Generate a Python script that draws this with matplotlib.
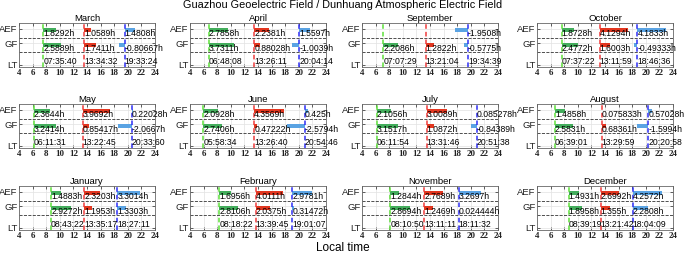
"""
Sunrise / noon / sunset response of the Guazhou geoelectric field (GF)
and the Dunhuang atmospheric electric field (AEF), one panel per month.
"""

import matplotlib.pyplot as plt


# ==========================================================
# Data (panel order: row by row)
# ==========================================================

months = ["March", "April", "September", "October",
          "May", "June", "July", "August",
          "January", "February", "November", "December"]

lt_sunrise = ["07:35:40", "06:48:08", "07:07:29", "07:37:22",
              "06:11:31", "05:58:34", "06:11:54", "06:39:01",
              "08:43:22", "08:18:22", "08:10:50", "08:39:19"]
lt_noon = ["13:34:32", "13:26:11", "13:21:04", "13:11:59",
           "13:22:45", "13:26:40", "13:31:46", "13:29:59",
           "13:35:17", "13:39:45", "13:11:11", "13:21:42"]
lt_sunset = ["19:33:24", "20:04:14", "19:34:39", "18:46:36",
             "20:33:60", "20:54:46", "20:51:38", "20:20:58",
             "18:27:11", "19:01:07", "18:11:32", "18:04:09"]

# hours of delay (negative = before the event)
aef_sunrise = [1.8292, 2.7858, None, 1.8728,
               2.3644, 2.0928, 2.1056, 1.4858,
               1.4883, 1.6956, 1.2844, 1.4931]
aef_noon = [1.0589, 2.2381, None, 4.1294,
            3.9692, 4.3569, 3.0089, 0.075833,
            2.3203, 4.0111, 2.7689, 2.6992]
aef_sunset = [1.4808, 1.5597, -1.9508, 4.1833,
              0.22028, 0.425, 0.085278, 0.57028,
              3.3014, 2.9781, 3.2697, 4.2572]

gf_sunrise = [2.5889, 3.7311, 2.2086, 2.4772,
              3.2414, 2.7406, 3.1517, 2.5831,
              2.9272, 2.8106, 2.8694, 1.8958]
gf_noon = [1.7411, 0.88028, 1.2822, 1.6003,
           0.85417, 0.47222, 1.0872, 0.68361,
           1.1953, 2.0375, 1.2469, 1.355]
gf_sunset = [-0.80667, -1.0039, -0.5775, -0.49333,
             -2.0667, -2.5794, -0.84389, -1.5994,
             1.3303, 0.31472, 0.024444, 2.2808]


# ==========================================================
# Style
# ==========================================================

SANS = "Liberation Sans"
SERIF = "Liberation Serif"

LINE_COLORS = ["#5ee03a", "#f03c3c", "#2d2df5"]
BAR_COLORS = ["#43ad5c", "#e2361f", "#5aa3e3"]

W, H = 685, 258

LEFTS = [19, 190, 362, 537]
TOPS = [23, 104, 186]
AX_W, AX_H = 136, 44

Y_AEF_BAR, Y_AEF_TXT = 2.51, 2.27
Y_GF_BAR, Y_GF_TXT = 1.49, 1.29
Y_LT_TXT = 0.40


def to_hours(t):
    h, m, s = (int(p) for p in t.split(":"))
    return h + m / 60 + s / 3600


def fmt(v):
    return f"{v:.5g}h"


fig = plt.figure(figsize=(W / 100, H / 100), dpi=100)

for i, month in enumerate(months):

    row, col = divmod(i, 4)

    ax = fig.add_axes([
        LEFTS[col] / W,
        1 - (TOPS[row] + AX_H) / H,
        AX_W / W,
        AX_H / H
    ])

    ax.set_xlim(4, 24)
    ax.set_ylim(0, 3)

    ax.set_axisbelow(True)
    ax.grid(True, color="#e2e2e2", lw=0.5)

    times = [lt_sunrise[i], lt_noon[i], lt_sunset[i]]
    aef = [aef_sunrise[i], aef_noon[i], aef_sunset[i]]
    gf = [gf_sunrise[i], gf_noon[i], gf_sunset[i]]

    for k in range(3):

        x0 = to_hours(times[k])

        ax.axvline(x0, color=LINE_COLORS[k], ls=(0, (3, 2)), lw=1.1, zorder=3)

        if aef[k] is not None:
            ax.barh(Y_AEF_BAR, aef[k], left=x0, height=0.25,
                    color=BAR_COLORS[k], zorder=2)
            ax.text(x0, Y_AEF_TXT, fmt(aef[k]), ha="left", va="center",
                    fontsize=6.2, family=SANS, zorder=4)

        ax.barh(Y_GF_BAR, gf[k], left=x0, height=0.25,
                color=BAR_COLORS[k], zorder=2)
        ax.text(x0, Y_GF_TXT, fmt(gf[k]), ha="left", va="center",
                fontsize=6.2, family=SANS, zorder=4)

        ax.text(x0, Y_LT_TXT, times[k], ha="left", va="center",
                fontsize=6.2, family=SANS, zorder=4)

    ax.axhline(2, color="#333333", ls="--", lw=0.6, zorder=1)
    ax.axhline(1, color="#333333", ls="--", lw=0.6, zorder=1)

    ax.set_xticks(range(4, 25, 2))
    ax.set_xticklabels([str(v) for v in range(4, 25, 2)],
                       family=SERIF, weight="bold", fontsize=6.5)

    ax.set_yticks([0.15, 1.62, 2.6])
    ax.set_yticklabels(["LT", "GF", "AEF"], family=SANS, fontsize=6.8)

    ax.tick_params(direction="in", length=2, width=0.5,
                   top=True, right=True, pad=1.2, colors="#222222")

    for spine in ax.spines.values():
        spine.set_color("#666666")
        spine.set_linewidth(0.6)

    ax.set_title(month, fontsize=6.8, family=SANS, pad=1.5)

fig.text(0.5, 1 - 5 / H,
         "Guazhou Geoelectric Field / Dunhuang Atmospheric Electric Field",
         ha="center", va="center", fontsize=7.8, family=SANS)

fig.text(0.5, 1 - 248 / H, "Local time",
         ha="center", va="center", fontsize=8.5, family=SANS)

fig.savefig("out.png", dpi=100)
